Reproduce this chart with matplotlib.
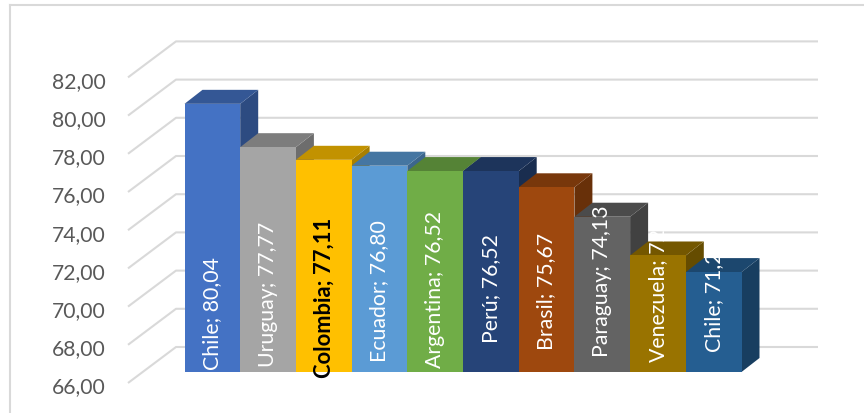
import numpy as np
import matplotlib
matplotlib.use("Agg")
import matplotlib.pyplot as plt
from matplotlib.patches import Polygon, Rectangle
from matplotlib.colors import to_rgb

plt.rcParams["font.family"] = ["Lato", "DejaVu Sans"]

paises = ["Chile", "Uruguay", "Colombia", "Ecuador", "Argentina",
          "Perú", "Brasil", "Paraguay", "Venezuela", "Chile"]
valores = [80.04, 77.77, 77.11, 76.80, 76.52, 76.52, 75.67, 74.13, 72.10, 71.23]
colores = ["#4472C4", "#A5A5A5", "#FFC000", "#5B9BD5", "#70AD47",
           "#264478", "#9E480E", "#636363", "#997300", "#255E91"]
ticks = np.arange(66, 83, 2)

BASE = 66.0
# pixel scale of the front plane of the columns
PX_X, PX_Y = 55.7, 19.1
X0_PX, Y0_PX = 184.5, 373.0
W_PX, H_PX = 864, 414

# depth offsets (in data units) of column tops, back wall and front edge
BAR_DX, BAR_DY = 18 / PX_X, 14 / PX_Y
WALL_DX, WALL_DY = 34 / PX_X, 25 / PX_Y
EDGE_DX, EDGE_DY = -14 / PX_X, -11 / PX_Y
MARGIN = 42.5 / PX_X

# pixel row where each data label ends (labels were placed by hand)
label_bottom_px = [370, 367, 378, 362, 368, 343, 350, 357, 362, 352]


def shade(c, f):
    r, g, b = to_rgb(c)
    return (r * f, g * f, b * f)


fig = plt.figure(figsize=(W_PX / 100, H_PX / 100), dpi=100)
ax = fig.add_axes([0, 0, 1, 1])
ax.set_xlim(-X0_PX / PX_X, (W_PX - X0_PX) / PX_X)
ax.set_ylim(BASE - (H_PX - Y0_PX) / PX_Y, BASE + Y0_PX / PX_Y)
ax.axis("off")

n = len(valores)
left = -MARGIN
right = n + MARGIN

# back wall gridlines with the diagonal on the left side wall
grid = "#D9D9D9"
for t in ticks:
    xs = [left + EDGE_DX, left + WALL_DX, right + WALL_DX]
    ys = [t + EDGE_DY, t + WALL_DY, t + WALL_DY]
    ax.plot(xs, ys, color=grid, lw=1.5, zorder=1, solid_capstyle="butt")
    ax.text(left + EDGE_DX - 22 / PX_X, t + EDGE_DY - 0.08, f"{t:.2f}".replace(".", ","),
            ha="right", va="center_baseline", fontsize=15.2, color="#595959")

# columns, drawn left to right so each front face hides the previous side
for i, (v, c) in enumerate(zip(valores, colores)):
    z = 2 + i
    ax.add_patch(Polygon([(i + 1, BASE), (i + 1 + BAR_DX, BASE + BAR_DY),
                          (i + 1 + BAR_DX, v + BAR_DY), (i + 1, v)],
                         closed=True, facecolor=shade(c, 0.66), edgecolor="none", zorder=z))
    ax.add_patch(Polygon([(i, v), (i + 1, v), (i + 1 + BAR_DX, v + BAR_DY),
                          (i + BAR_DX, v + BAR_DY)],
                         closed=True, facecolor=shade(c, 0.76), edgecolor="none", zorder=z))
    ax.add_patch(Rectangle((i, BASE), 1, v - BASE, facecolor=c, edgecolor="none", zorder=z))

# data labels written up each column
for i, (p, v) in enumerate(zip(paises, valores)):
    txt = f"{p}; {v:.2f}".replace(".", ",")
    y = BASE + (Y0_PX - label_bottom_px[i]) / PX_Y
    if p == "Colombia":
        ax.text(i + 0.5, y, txt, rotation=90, ha="center", va="bottom",
                fontsize=15.8, color="black", fontweight="bold", zorder=20)
    else:
        ax.text(i + 0.5, y, txt, rotation=90, ha="center", va="bottom",
                fontsize=15.3, color="white", zorder=20)

# chart area border
fig.add_artist(plt.Line2D([10 / W_PX, 10 / W_PX], [0, 1 - 6 / H_PX], color=grid, lw=1.5))
fig.add_artist(plt.Line2D([10 / W_PX, 1], [1 - 6 / H_PX, 1 - 6 / H_PX], color=grid, lw=1.5))

fig.savefig("out.png", dpi=100)
